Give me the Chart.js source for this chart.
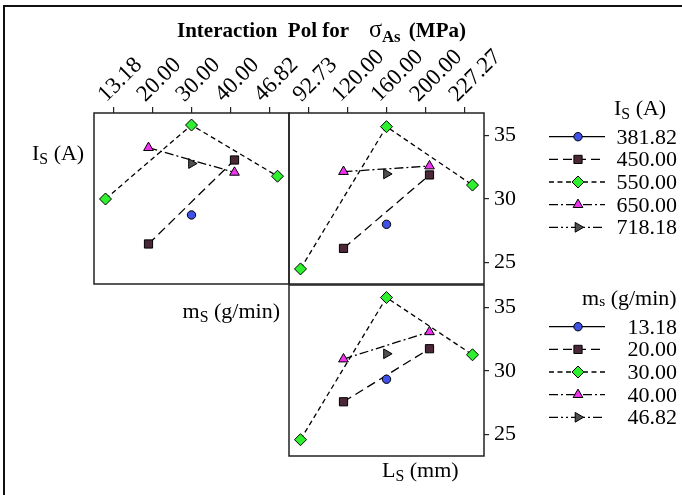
<!DOCTYPE html>
<html>
<head>
<meta charset="utf-8">
<script src="https://cdn.jsdelivr.net/npm/chart.js@4.4.1/dist/chart.umd.min.js"></script>
<style>
  html,body{margin:0;padding:0;background:#fff;}
  #wrap{position:relative;width:682px;height:495px;overflow:hidden;background:#fff;}
  canvas{position:absolute;left:0;top:0;}
  .t{position:absolute;font-family:'Liberation Serif','Times New Roman',serif;font-size:22px;line-height:1;white-space:nowrap;color:#000;transform:translateY(-50%);}
  .t sub{font-size:0.72em;vertical-align:-0.28em;line-height:0;}
  #frame{position:absolute;left:3px;top:5px;width:700px;height:520px;border-top:2px solid #111;border-left:2px solid #111;}
</style>
</head>
<body>
<div id="wrap">
  <div id="frame"></div>
  <canvas id="cTL" width="682" height="495"></canvas>
  <canvas id="cTR" width="682" height="495"></canvas>
  <canvas id="cBR" width="682" height="495"></canvas>
  <div class="t" style="left:177px;top:29px;font-weight:bold;font-size:21px;">Interaction&nbsp; Pol for <span style="margin-left:15px;font-weight:normal;font-size:1.15em;">σ</span><sub style="font-size:0.8em;vertical-align:-0.3em;">As</sub><span style="margin-left:3px;"> (MPa)</span></div>
  <div class="t" style="left:32px;top:153px;">I<sub>S</sub> (A)</div>
  <div class="t" style="right:402px;top:311px;">m<sub>S</sub> (g/min)</div>
  <div class="t" style="left:382px;top:470px;">L<sub>S</sub> (mm)</div>
  <div id="leg1"></div>
  <div id="leg2"></div>
</div>
<script>
// ---------- data ----------
const msLevels = ['13.18', '20.00', '30.00', '40.00', '46.82'];
const lsLevels = ['92.73', '120.00', '160.00', '200.00', '227.27'];
const isLevels = ['381.82', '450.00', '550.00', '650.00', '718.18'];
const yTickValues = [25, 30, 35];

// Top-left: I_S levels vs m_S (index = m_S level), null = not run
const tl_381 = [null, null, 28.74, null, null];
const tl_450 = [null, 26.45, null, 33.08, null];
const tl_550 = [30.0, null, 35.84, null, 31.8];
const tl_650 = [null, 34.05, null, 32.1, null];
const tl_718 = [null, null, 32.8, null, null];

// Top-right: I_S levels vs L_S
const tr_381 = [null, null, 28.0, null, null];
const tr_450 = [null, 26.1, null, 31.9, null];
const tr_550 = [24.48, null, 35.71, null, 31.1];
const tr_650 = [null, 32.16, null, 32.6, null];
const tr_718 = [null, null, 31.98, null, null];

// Bottom-right: m_S levels vs L_S
const br_1318 = [null, null, 29.35, null, null];
const br_2000 = [null, 27.57, null, 31.76, null];
const br_3000 = [24.58, null, 35.8, null, 31.28];
const br_4000 = [null, 30.94, null, 33.09, null];
const br_4682 = [null, null, 31.36, null, null];

// ---------- styles / layout ----------
const FONT = 'Liberation Serif';
const styles = [
  {color: '#3f51e6', pointStyle: 'circle',   rotation: 0,  radius: 4.2, dash: []},
  {color: '#4a2838', pointStyle: 'rect',     rotation: 0,  radius: 5.8, dash: [9, 5]},
  {color: '#2ef02e', pointStyle: 'rectRot',  rotation: 0,  radius: 6,   dash: [5, 3.5]},
  {color: '#f032f0', pointStyle: 'triangle', rotation: 0,  radius: 5.6, dash: [9, 3, 2, 3]},
  {color: '#505050', pointStyle: 'triangle', rotation: 90, radius: 5.6, dash: [9, 3, 2, 3, 2, 3]}
];
const W = 682, H = 495;
const PANEL_W = 195;
const X_HALF = 2.2674;            // half range of x scale in level units
const TICK_SPREAD = 39 / 43;       // tick marks are slightly compressed vs points
const Y_MIN = 23.29, Y_MAX = 36.79;
const XH = 95, YW = 40;

function makeDataset(values, st, label) {
  return {
    label: label,
    data: values.map((v, i) => v == null ? null : {x: i, y: v}).filter(Boolean),
    borderColor: '#000', borderWidth: 1.3, borderDash: st.dash,
    pointStyle: st.pointStyle, pointRotation: st.rotation, pointRadius: st.radius,
    pointHoverRadius: st.radius,
    pointBackgroundColor: st.color, pointBorderColor: '#000', pointBorderWidth: 1,
    showLine: true, fill: false, tension: 0, clip: false
  };
}

const frameBox = {
  id: 'frameBox',
  afterDatasetsDraw(chart) {
    const a = chart.chartArea, ctx = chart.ctx;
    ctx.save();
    ctx.strokeStyle = '#222'; ctx.lineWidth = 1.5; ctx.setLineDash([]);
    ctx.strokeRect(a.left, a.top, a.right - a.left, a.bottom - a.top);
    ctx.restore();
  }
};

function xScale(levels, show) {
  return {
    type: 'linear', position: 'top', display: show,
    min: 2 - X_HALF, max: 2 + X_HALF,
    afterBuildTicks: s => { s.ticks = levels.map((_, i) => ({value: 2 + (i - 2) * TICK_SPREAD})); },
    afterFit: s => { s.height = show ? XH : 0; },
    ticks: {
      autoSkip: false, minRotation: 45, maxRotation: 45, padding: -1, labelOffset: 8,
      color: '#000', font: {family: FONT, size: 23},
      callback: (v, i) => levels[i]
    },
    grid: {drawOnChartArea: false, drawTicks: true, tickLength: 6, color: '#222', lineWidth: 1.2},
    border: {display: false}
  };
}
function yScale(show) {
  return {
    type: 'linear', position: 'right', display: show,
    min: Y_MIN, max: Y_MAX,
    afterBuildTicks: s => { s.ticks = yTickValues.map(v => ({value: v})); },
    afterFit: s => { s.width = show ? YW : 0; },
    ticks: {padding: 5, color: '#000', font: {family: FONT, size: 22}},
    grid: {drawOnChartArea: false, drawTicks: true, tickLength: 5, color: '#222', lineWidth: 1.2},
    border: {display: false}
  };
}
function baseOptions(padding, xs, ys) {
  return {
    responsive: false, animation: false, events: [],
    layout: {padding: padding},
    plugins: {legend: {display: false}, tooltip: {enabled: false}},
    scales: {x: xs, y: ys}
  };
}

// Top-left panel: chartArea x 94..289, y 113..284
new Chart(document.getElementById('cTL'), {
  type: 'line',
  data: {datasets: [tl_381, tl_450, tl_550, tl_650, tl_718].map((d, i) => makeDataset(d, styles[i], isLevels[i]))},
  options: baseOptions({left: 94, right: W - 94 - PANEL_W, top: 113 - XH, bottom: H - 284},
                       xScale(msLevels, true), yScale(false)),
  plugins: [frameBox]
});

// Top-right panel: chartArea x 289..484, y 113..284
new Chart(document.getElementById('cTR'), {
  type: 'line',
  data: {datasets: [tr_381, tr_450, tr_550, tr_650, tr_718].map((d, i) => makeDataset(d, styles[i], isLevels[i]))},
  options: baseOptions({left: 289, right: W - 289 - PANEL_W - YW, top: 113 - XH, bottom: H - 284},
                       xScale(lsLevels, true), yScale(true)),
  plugins: [frameBox]
});

// Legend samples drawn with the chart's point renderer
function drawLegendSamples(ctx, rowY) {
  styles.forEach((st, i) => {
    const y = rowY[i];
    ctx.save();
    ctx.strokeStyle = '#000'; ctx.lineWidth = 1.3; ctx.setLineDash(st.dash);
    ctx.beginPath(); ctx.moveTo(549, y); ctx.lineTo(605, y); ctx.stroke();
    ctx.setLineDash([]);
    ctx.fillStyle = st.color; ctx.strokeStyle = '#000'; ctx.lineWidth = 1;
    Chart.helpers.drawPoint(ctx, {pointStyle: st.pointStyle, rotation: st.rotation, radius: st.radius, borderWidth: 1}, 578, y);
    ctx.restore();
  });
}
const LEG1_Y = [136.7, 159.4, 182.0, 204.7, 227.3];
const LEG2_Y = [326.7, 349.4, 372.0, 394.7, 417.3];
const legendPlugin = {
  id: 'legendSamples',
  afterDraw(chart) {
    drawLegendSamples(chart.ctx, LEG1_Y);
    drawLegendSamples(chart.ctx, LEG2_Y);
  }
};

// Bottom-right panel: chartArea x 289..484, y 285..456
new Chart(document.getElementById('cBR'), {
  type: 'line',
  data: {datasets: [br_1318, br_2000, br_3000, br_4000, br_4682].map((d, i) => makeDataset(d, styles[i], msLevels[i]))},
  options: baseOptions({left: 289, right: W - 289 - PANEL_W - YW, top: 285, bottom: H - 456},
                       xScale(lsLevels, false), yScale(true)),
  plugins: [frameBox, legendPlugin]
});

// Legend texts
function buildLegend(el, title, titleLeft, titleY, labels, rowY) {
  let html = '<div class="t" style="left:' + titleLeft + 'px;top:' + titleY + 'px;">' + title + '</div>';
  labels.forEach((lab, i) => {
    html += '<div class="t" style="right:5px;top:' + rowY[i] + 'px;">' + lab + '</div>';
  });
  el.innerHTML = html;
}
buildLegend(document.getElementById('leg1'), 'I<sub>S</sub> (A)', 614, 108, isLevels, LEG1_Y);
buildLegend(document.getElementById('leg2'), 'm<sub style="font-size:0.7em;vertical-align:-0.05em;">s</sub> (g/min)', 582, 298, msLevels, LEG2_Y);
</script>
</body>
</html>
